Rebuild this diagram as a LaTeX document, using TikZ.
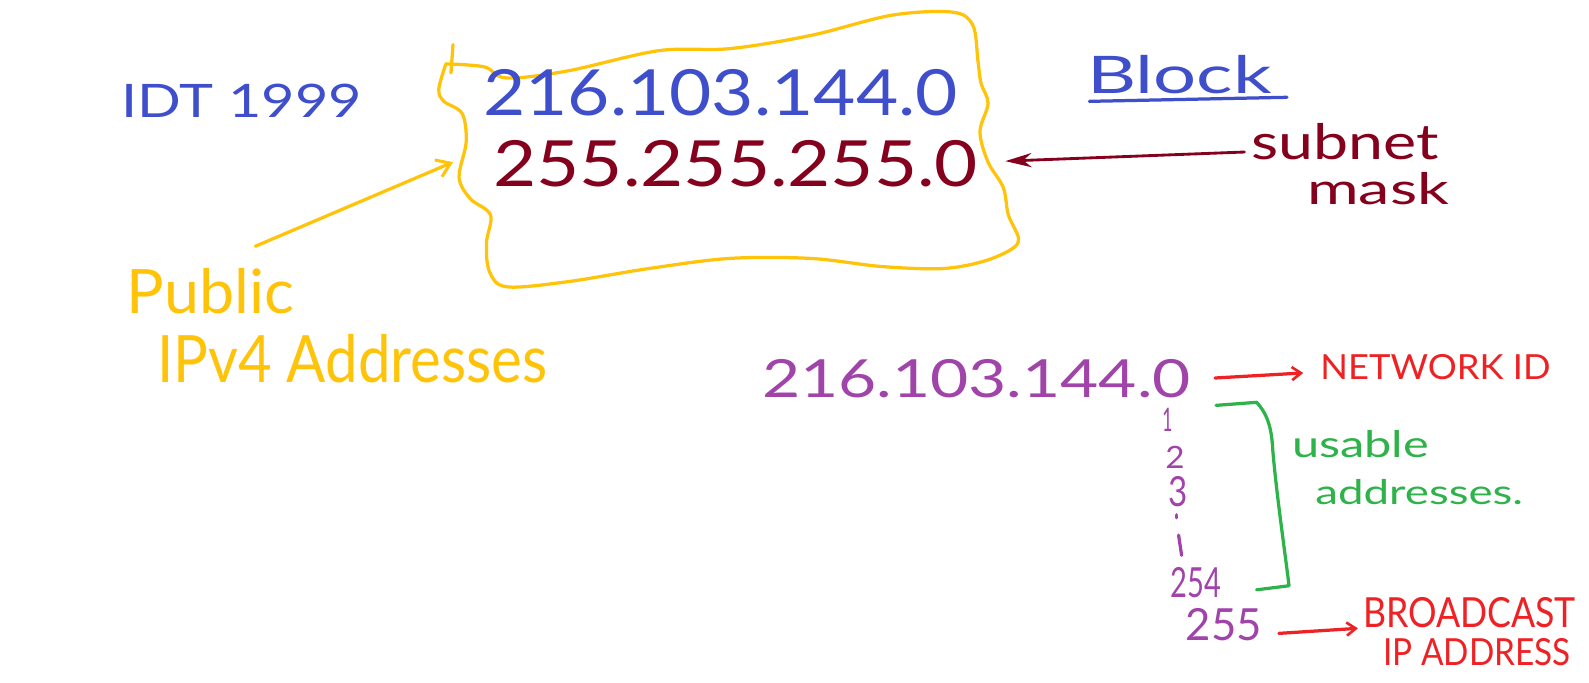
\documentclass[tikz,border=0pt]{standalone}
\usepackage{fontspec}
\setmainfont{Lato}
\usetikzlibrary{arrows.meta}
\newcommand{\fitt}[3]{\resizebox*{#1pt}{#2pt}{#3}}
\definecolor{hblue}{HTML}{3F4FCC}
\definecolor{hdred}{HTML}{84001C}
\definecolor{hyel}{HTML}{FFC40A}
\definecolor{hpur}{HTML}{A044AA}
\definecolor{hred}{HTML}{EE2224}
\definecolor{hgreen}{HTML}{2EB34A}
\tikzset{
  hw/.style={anchor=north west, inner sep=0pt, outer sep=0pt},
  pen/.style={line width=3.2pt, line cap=round, line join=round},
  barb/.style={-{Straight Barb[length=9pt,width=13pt,line width=2.6pt]}},
}
\begin{document}
\begin{tikzpicture}[x=1pt,y=-1pt]
\useasboundingbox[fill=white] (0,0) rectangle (1568,673);

% top-left label
\node[hw, text=hblue] (idt) at (120,83) {\fitt{237}{33}{IDT 1999}};

% yellow wavy block
\draw[pen, hyel] plot[smooth, tension=0.55] coordinates {
 (440,63) (478,66) (500,77) (560,70) (650,50) (720,48) (800,35) (880,15)
 (940,12) (960,25) (965,60) (968,82) (975,102) (967,130) (975,160) (990,185)
 (995,212) (1005,235) (998,246) (970,258) (930,265) (870,263) (800,255)
 (720,255) (640,265) (560,278) (500,283) (483,268) (480,240) (484,212)
 (464,196) (453,175) (460,140) (456,112) (438,100) (433,88) (440,63)};
\draw[pen, hyel] (447,44) -- (445,72);

\node[hw, text=hblue] (blk1) at (477,68) {\fitt{468}{46}{216.103.144.0}};
\node[hw, text=hdred] (mask1) at (487,139) {\fitt{478}{46}{255.255.255.0}};

% public label and arrow
\node[hw, text=hyel] (pub) at (125,265) {\fitt{165}{45}{Public}};
\node[hw, text=hyel] (ipv4) at (155,330) {\fitt{385}{48}{IPv4 Addresses}};
\coordinate (ya1) at (252,243);
\coordinate (ya2) at (447,160);
\draw[pen, hyel, -{Straight Barb[length=13pt,width=18pt,line width=3pt]}] (ya1) -- (ya2);

% Block
\node[hw, text=hblue] (block) at (1073,55) {\fitt{182}{38}{Block}};
\draw[pen, hblue] ([xshift=2pt,yshift=-7pt]block.south west) coordinate (ul1) -- ([xshift=15pt,yshift=-3pt]block.south east) coordinate (ul2);

% subnet mask
\node[hw, text=hdred] (sub) at (1235,122) {\fitt{185}{36}{subnet}};
\node[hw, text=hdred] (msk) at (1290,170) {\fitt{140}{32}{mask}};
\coordinate (dr1) at (1228,150);
\coordinate (dr2) at (992,159);
\draw[line width=2.8pt, hdred, line cap=round, -{Stealth[length=26pt,width=14pt]}] (dr1) -- (dr2);

% lower right
\node[hw, text=hpur] (net2) at (752,355) {\fitt{423}{38}{216.103.144.0}};
\node[hw, text=hred] (nid) at (1303,350) {\fitt{227}{25}{NETWORK ID}};
\coordinate (ra1) at (1199,373);
\coordinate (ra2) at (1286,368);
\draw[pen, hred, barb] (ra1) -- (ra2);

\node[hw, text=hpur] (n1) at (1147,403) {\fitt{10}{23}{1}};
\node[hw, text=hpur] (n2) at (1150,440) {\fitt{19}{22}{2}};
\node[hw, text=hpur] (n3) at (1153,470) {\fitt{19}{30}{3}};
\draw[pen, hpur] (1161,508) -- (1161,511);
\draw[pen, hpur] (1163,528) -- (1166,548);
\node[hw, text=hpur] (n254) at (1155,560) {\fitt{50}{30}{254}};
\node[hw, text=hpur] (n255) at (1170,600) {\fitt{75}{32}{255}};

% green bracket
\coordinate (gb1) at (1200,400);
\coordinate (gb2) at (1240,582);
\draw[pen, hgreen] (gb1) -- (1240,397) .. controls (1252,410) and (1255,425) .. (1256,445)
  .. controls (1260,490) and (1266,530) .. (1272,578) -- (gb2);
\node[hw, text=hgreen] (use) at (1275,425) {\fitt{135}{27}{usable}};
\node[hw, text=hgreen] (addr) at (1298,473) {\fitt{205}{25}{addresses.}};

% broadcast
\node[hw, text=hred] (bc) at (1345,590) {\fitt{210}{30}{BROADCAST}};
\node[hw, text=hred] (ipa) at (1365,630) {\fitt{185}{27}{IP ADDRESS}};
\coordinate (rb1) at (1262,625);
\coordinate (rb2) at (1340,620);
\draw[pen, hred, barb] (rb1) -- (rb2);
\end{tikzpicture}
\end{document}
